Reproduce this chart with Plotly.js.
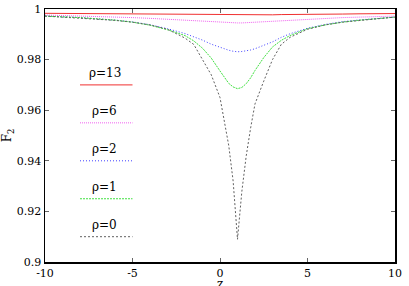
<!DOCTYPE html>
<html>
<head>
<meta charset="utf-8">
<script src="https://cdn.plot.ly/plotly-3.0.1.min.js"></script>
<style>html,body{margin:0;padding:0;background:#fff;}#chart{width:409px;height:286px;}</style>
</head>
<body>
<div id="chart"></div>
<script>
const z = [-10,-8,-6,-5,-4,-3,-2,-1.5,-1,-0.5,0,0.25,0.5,0.75,1,1.25,1.5,1.75,2,2.5,3,3.5,4,5,6,7,8,10];
const rho13 = [0.9983,0.9982,0.9981,0.9980,0.9980,0.9979,0.9978,0.9978,0.9977,0.9977,0.9977,0.9977,0.9976,0.9976,0.9976,0.9976,0.9976,0.9976,0.9977,0.9977,0.9977,0.9978,0.9978,0.9979,0.9980,0.9980,0.9981,0.9982];
const rho6 = [0.9976,0.9973,0.9969,0.9966,0.9963,0.9959,0.9955,0.9953,0.9951,0.9949,0.9947,0.9946,0.9946,0.9945,0.9945,0.9945,0.9946,0.9946,0.9947,0.9949,0.9951,0.9953,0.9955,0.9959,0.9963,0.9966,0.9968,0.9972];
const rho2 = [0.9972,0.9966,0.9956,0.9949,0.9938,0.9922,0.9903,0.9891,0.9877,0.9861,0.9848,0.9842,0.9837,0.9833,0.9831,0.9832,0.9834,0.9838,0.9843,0.9855,0.9870,0.9888,0.9902,0.9924,0.9939,0.9950,0.9957,0.9968];
const rho1 = [0.9972,0.9966,0.9956,0.9948,0.9936,0.9918,0.9895,0.9874,0.9845,0.9806,0.9755,0.9728,0.9706,0.9692,0.9685,0.9690,0.9705,0.9728,0.9757,0.9808,0.9850,0.9876,0.9895,0.9922,0.9937,0.9948,0.9956,0.9968];
const rho0 = [0.9972,0.9965,0.9955,0.9948,0.9937,0.9920,0.9885,0.9860,0.9800,0.9740,0.9650,0.9560,0.9460,0.9320,0.9090,0.9280,0.9420,0.9530,0.9625,0.9715,0.9800,0.9860,0.9888,0.9920,0.9937,0.9948,0.9955,0.9968];

const seriesNames = ['ρ=13','ρ=6','ρ=2','ρ=1','ρ=0'];
const seriesValues = [rho13, rho6, rho2, rho1, rho0];
const xTickVals = [-10,-5,0,5,10];
const xTickText = ['-10','-5','0','5','10'];
const xTitle = 'z';
const yTitle = 'F<sub>2</sub>';

const styles = [
  {color:'#f03030', dash:'solid'},
  {color:'#f060f0', dash:'1px,1px'},
  {color:'#4040ff', dash:'1px,2px'},
  {color:'#40e040', dash:'2px,1px'},
  {color:'#606060', dash:'2px,2px'}
];

const traces = seriesValues.map((v,i)=>({
  x: z, y: v, type:'scatter', mode:'lines', name: seriesNames[i],
  line:{color:styles[i].color, dash:styles[i].dash, width:1},
  showlegend:false, hoverinfo:'skip'
}));

const fontFam = 'DejaVu Serif';

const shapes = [], annotations = [];
seriesNames.forEach((n,i)=>{
  const yLine = 0.70 - i*0.15;
  shapes.push({type:'line', xref:'paper', yref:'paper', x0:0.10, x1:0.25, y0:yLine, y1:yLine,
    line:{color:styles[i].color, dash:styles[i].dash, width:1}});
  annotations.push({xref:'paper', yref:'paper', x:0.17, y:yLine+0.048, text:n, showarrow:false,
    xanchor:'center', yanchor:'middle', font:{family:fontFam, size:12, color:'#000'}});
});
annotations.push({xref:'paper', yref:'paper', x:0.5, y:-0.085, text:xTitle, showarrow:false,
  xanchor:'center', yanchor:'middle', font:{family:fontFam, size:12, color:'#000'}});

const layout = {
  width:409, height:286,
  margin:{l:45, r:14, t:9, b:24},
  paper_bgcolor:'#fff', plot_bgcolor:'#fff',
  font:{family:fontFam, size:11, color:'#000'},
  xaxis:{range:[-10,10], tickvals:xTickVals, ticktext:xTickText, ticks:'inside', ticklen:4,
    tickcolor:'#666', showline:true, linecolor:'#000', linewidth:1.5, mirror:'ticks',
    showgrid:false, zeroline:false, automargin:false, tickfont:{family:fontFam, size:11}},
  yaxis:{range:[0.9,1], dtick:0.02, tick0:0.9, ticks:'inside', ticklen:4,
    tickcolor:'#666', showline:true, linecolor:'#000', linewidth:1.5, mirror:'ticks',
    showgrid:false, zeroline:false, automargin:false, tickfont:{family:fontFam, size:11},
    title:{text:yTitle, standoff:6, font:{family:fontFam, size:12}}},
  shapes: shapes, annotations: annotations, showlegend:false
};
Plotly.newPlot('chart', traces, layout, {staticPlot:true, displayModeBar:false});
</script>
</body>
</html>
